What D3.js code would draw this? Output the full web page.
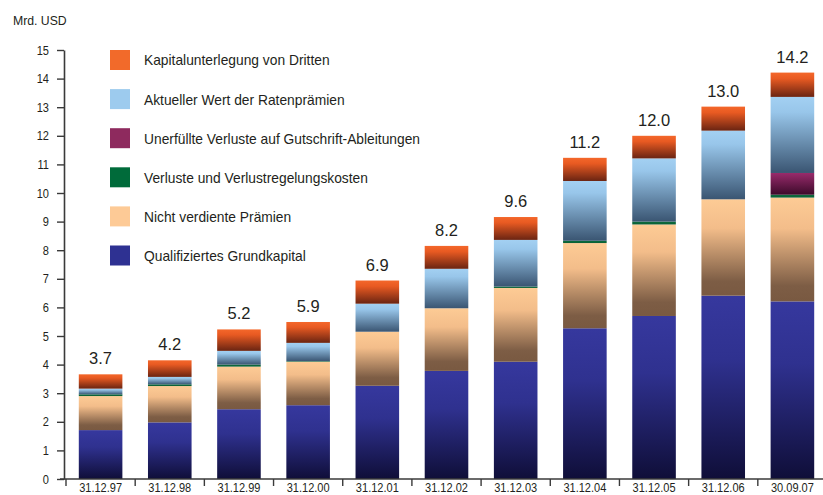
<!DOCTYPE html>
<html>
<head>
<meta charset="utf-8">
<script src="https://cdn.jsdelivr.net/npm/d3@7"></script>
<style>
  html, body { margin: 0; padding: 0; background: #ffffff; }
  svg { display: block; }
  text { font-family: "Liberation Sans", Arial, Helvetica, sans-serif; fill: #231f20; }
</style>
</head>
<body>
<svg id="chart" width="823" height="495"></svg>
<script>
// ---- Data ----
const categories = ["31.12.97","31.12.98","31.12.99","31.12.00","31.12.01","31.12.02","31.12.03","31.12.04","31.12.05","31.12.06","30.09.07"];
const totalLabels = ["3.7","4.2","5.2","5.9","6.9","8.2","9.6","11.2","12.0","13.0","14.2"];
const seriesNames = [
  "Qualifiziertes Grundkapital",
  "Nicht verdiente Prämien",
  "Verluste und Verlustregelungskosten",
  "Unerfüllte Verluste auf Gutschrift-Ableitungen",
  "Aktueller Wert der Ratenprämien",
  "Kapitalunterlegung von Dritten"
];
const grundkapital   = [1.71, 1.98, 2.44, 2.58, 3.26, 3.78, 4.10, 5.27, 5.70, 6.41, 6.21];
const nichtVerdient  = [1.19, 1.27, 1.49, 1.52, 1.89, 2.19, 2.58, 2.98, 3.20, 3.37, 3.63];
const verluste       = [0.06, 0.06, 0.07, 0.02, 0.00, 0.00, 0.05, 0.08, 0.10, 0.00, 0.10];
const unerfuellt     = [0.00, 0.00, 0.00, 0.00, 0.00, 0.00, 0.00, 0.00, 0.00, 0.00, 0.76];
const ratenpraemien  = [0.20, 0.26, 0.48, 0.64, 0.98, 1.38, 1.63, 2.09, 2.21, 2.40, 2.66];
const kapitalDritte  = [0.50, 0.58, 0.75, 0.73, 0.81, 0.80, 0.80, 0.81, 0.79, 0.84, 0.85];
const yTicks = [0,1,2,3,4,5,6,7,8,9,10,11,12,13,14,15];

const seriesValues = [grundkapital, nichtVerdient, verluste, unerfuellt, ratenpraemien, kapitalDritte];
const keys = ["s0","s1","s2","s3","s4","s5"];

// ---- Styles ----
const legendColors = ["#2e3192", "#fdca96", "#006b3a", "#8e2a5e", "#9dcbee", "#f26a2a"];
const gradStops = [
  [[0,"#36389e"],[0.35,"#2f318f"],[1,"#0f0e38"]],
  [[0,"#fdcb95"],[0.3,"#f3bd8a"],[0.85,"#7d5d45"],[1,"#795941"]],
  [[0,"#0b6e3e"],[1,"#0b5e36"]],
  [[0,"#982b6b"],[1,"#3c0a2a"]],
  [[0,"#a3d0f2"],[0.2,"#98c6ea"],[1,"#3a5572"]],
  [[0,"#f4672a"],[0.25,"#e85a22"],[1,"#6a2412"]]
];

const table = categories.map((c, i) => {
  const row = { cat: c, label: totalLabels[i] };
  keys.forEach((k, j) => row[k] = seriesValues[j][i]);
  return row;
});

const svg = d3.select("#chart");
const x0 = 66, x1 = 827, yBottom = 479, yTop = 50;

const x = d3.scaleBand().domain(categories).range([x0, x1]).paddingInner(0.37).paddingOuter(0.185);
const y = d3.scaleLinear().domain([0, 15]).range([yBottom, yTop]);

// gradients
const defs = svg.append("defs");
gradStops.forEach((stops, i) => {
  const g = defs.append("linearGradient").attr("id", "g" + i)
    .attr("x1", 0).attr("y1", 0).attr("x2", 0).attr("y2", 1);
  stops.forEach(s => g.append("stop").attr("offset", s[0]).attr("stop-color", s[1]));
});

// stack
const stacked = d3.stack().keys(keys)(table);

svg.append("g").selectAll("g").data(stacked).join("g")
  .attr("fill", (d, i) => `url(#g${i})`)
  .selectAll("rect").data(d => d.filter(p => p[1] - p[0] > 0)).join("rect")
  .attr("x", d => x(d.data.cat))
  .attr("width", x.bandwidth())
  .attr("y", d => y(d[1]))
  .attr("height", d => y(d[0]) - y(d[1]));

// total labels
const topOf = d => keys.reduce((s, k) => s + d[k], 0);
svg.append("g").selectAll("text").data(table).join("text")
  .attr("x", d => x(d.cat) + x.bandwidth() / 2)
  .attr("y", d => y(topOf(d)) - 10)
  .attr("text-anchor", "middle")
  .style("font-size", "16.5px")
  .text(d => d.label);

// Y axis
const yAxis = svg.append("g").attr("transform", "translate(64,0)")
  .call(d3.axisLeft(y).tickValues(yTicks).tickSize(7).tickPadding(8).tickSizeOuter(0));
yAxis.select(".domain").attr("stroke", "#3a3a3a").attr("stroke-width", 1.6);
yAxis.selectAll(".tick line").attr("stroke", "#3a3a3a").attr("stroke-width", 1.4);
yAxis.selectAll(".tick text")
  .style("font-size", "13px")
  .attr("fill", "#231f20")
  .each(function() {
    const t = d3.select(this);
    const xx = +t.attr("x");
    t.attr("transform", `translate(${xx},0) scale(0.85,1)`).attr("x", 0);
  });

// X axis
const xg = svg.append("g");
xg.append("line").attr("x1", 60).attr("x2", 823).attr("y1", yBottom).attr("y2", yBottom)
  .attr("stroke", "#3a3a3a").attr("stroke-width", 1.6);
const gap = x.step() * x.paddingInner();
xg.selectAll("line.tk").data(categories).join("line").attr("class", "tk")
  .attr("x1", d => x(d) - gap / 2).attr("x2", d => x(d) - gap / 2)
  .attr("y1", yBottom).attr("y2", yBottom + 7)
  .attr("stroke", "#3a3a3a").attr("stroke-width", 1.4);
xg.selectAll("text").data(categories).join("text")
  .attr("transform", d => `translate(${x(d) + x.bandwidth() / 2},491.5) scale(0.92,1)`)
  .attr("text-anchor", "middle")
  .style("font-size", "12px")
  .text(d => d);

// Unit label
svg.append("text").attr("transform", "translate(13,25) scale(0.98,1)")
  .style("font-size", "12.5px").text("Mrd. USD");

// Legend (top to bottom: reverse of stack order)
const legendOrder = [5, 4, 3, 2, 1, 0];
const lg = svg.append("g");
legendOrder.forEach((si, r) => {
  const cy = 60 + r * 39.1;
  lg.append("rect").attr("x", 110).attr("y", cy - 10).attr("width", 20).attr("height", 20)
    .attr("fill", legendColors[si]);
  lg.append("text").attr("transform", `translate(144,${cy + 5.4}) scale(0.92,1)`)
    .style("font-size", "15px").text(seriesNames[si]);
});
</script>
</body>
</html>
